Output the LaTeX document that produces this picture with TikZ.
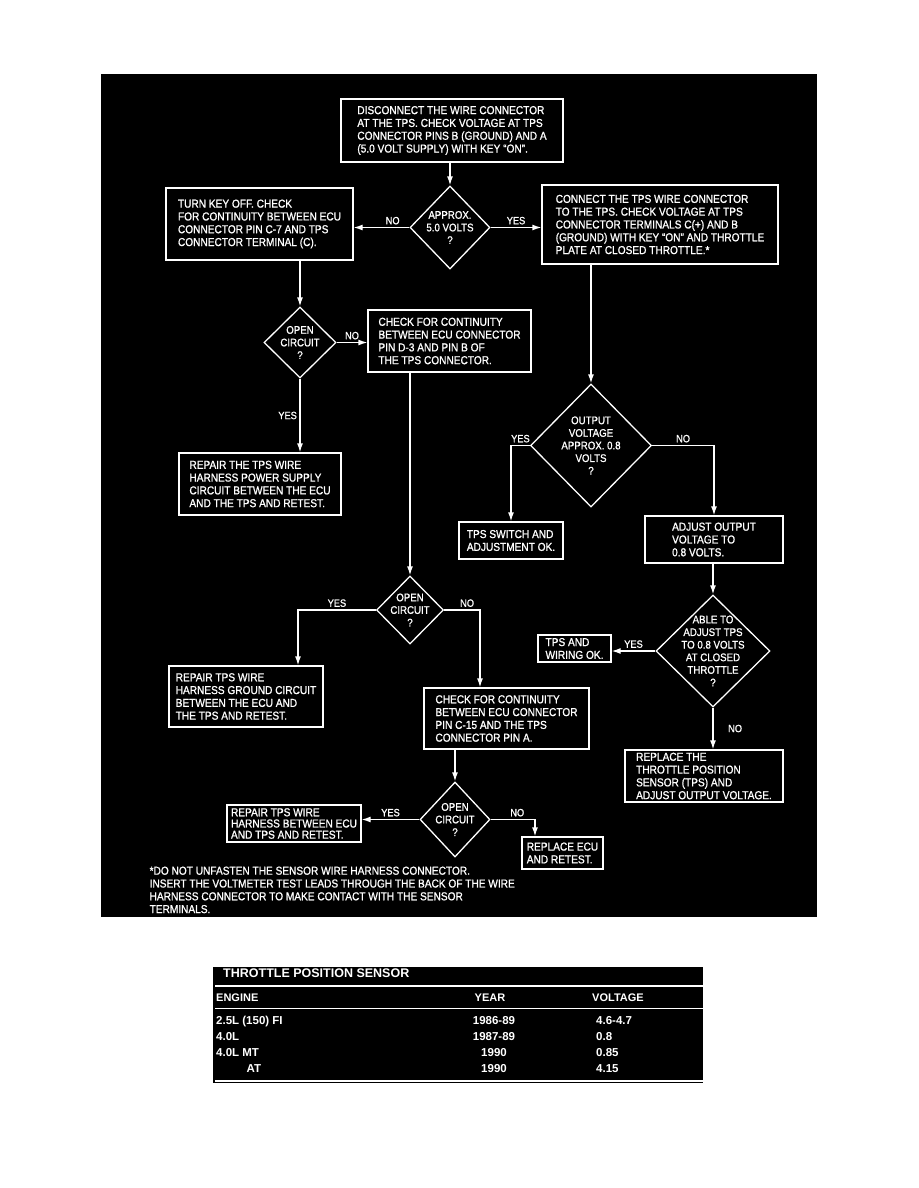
\documentclass[tikz,border=0pt]{standalone}
\usepackage{fontspec}
\newfontfamily\flowfont{Liberation Sans}[FakeStretch=0.88,FakeBold=1]
\newfontfamily\tabfont{Liberation Sans}
\usetikzlibrary{arrows.meta,shapes.geometric}
\tikzset{
  blk/.style  = {draw=white, line width=1.3pt, text=white, align=left, inner sep=0pt,
                 font=\flowfont\fontsize{11.5}{12.8}\selectfont},
  dia/.style  = {diamond, draw=white, line width=1.3pt, inner sep=0pt},
  dtxt/.style = {text=white, align=center, inner sep=0pt,
                 font=\flowfont\fontsize{11}{12.6}\selectfont},
  ar/.style   = {-{Latex[length=9pt,width=6pt]}, draw=white, line width=1.3pt},
  lbl/.style  = {text=white, inner sep=2.5pt, font=\flowfont\fontsize{10.5}{12}\selectfont},
  thd/.style  = {text=white, inner sep=0pt, font=\tabfont\bfseries\fontsize{11}{12}\selectfont},
  trow/.style = {text=white, inner sep=0pt, font=\tabfont\bfseries\fontsize{11.5}{13}\selectfont}
}

\begin{document}
\begin{tikzpicture}[x=1pt, y=-1pt]
\useasboundingbox (0,0) rectangle (918,1188);
% ---- panel ----
\fill[black] (101,74) rectangle (817,917);

% ---- boxes ----
\node[blk, minimum width=222pt, minimum height=63pt] (disc) at (452,130.5)
  {DISCONNECT THE WIRE CONNECTOR\\AT THE TPS. CHECK VOLTAGE AT TPS\\CONNECTOR PINS B (GROUND) AND A\\(5.0 VOLT SUPPLY) WITH KEY “ON”.};
\node[blk, minimum width=187pt, minimum height=72pt] (keyoff) at (259.5,224)
  {TURN KEY OFF. CHECK\\FOR CONTINUITY BETWEEN ECU\\CONNECTOR PIN C-7 AND TPS\\CONNECTOR TERMINAL (C).};
\node[blk, minimum width=236pt, minimum height=79pt] (connect) at (660,224.5)
  {CONNECT THE TPS WIRE CONNECTOR\\TO THE TPS. CHECK VOLTAGE AT TPS\\CONNECTOR TERMINALS C(+) AND B\\(GROUND) WITH KEY “ON” AND THROTTLE\\PLATE AT CLOSED THROTTLE.*};
\node[blk, minimum width=163pt, minimum height=62pt] (contd3) at (449.5,341)
  {CHECK FOR CONTINUITY\\BETWEEN ECU CONNECTOR\\PIN D-3 AND PIN B OF\\THE TPS CONNECTOR.};
\node[blk, minimum width=162pt, minimum height=62pt] (reppwr) at (260,484)
  {REPAIR THE TPS WIRE\\HARNESS POWER SUPPLY\\CIRCUIT BETWEEN THE ECU\\AND THE TPS AND RETEST.};
\node[blk, minimum width=104pt, minimum height=37pt] (swok) at (511,540.5)
  {TPS SWITCH AND\\ADJUSTMENT OK.};
\node[blk, minimum width=138pt, minimum height=47pt] (adjout) at (714,539.5)
  {ADJUST OUTPUT\\VOLTAGE TO\\0.8 VOLTS.};
\node[blk, minimum width=154pt, minimum height=61pt] (repgnd) at (246,696.5)
  {REPAIR TPS WIRE\\HARNESS GROUND CIRCUIT\\BETWEEN THE ECU AND\\THE TPS AND RETEST.};
\node[blk, minimum width=165pt, minimum height=61pt] (contc15) at (506.5,718.5)
  {CHECK FOR CONTINUITY\\BETWEEN ECU CONNECTOR\\PIN C-15 AND THE TPS\\CONNECTOR PIN A.};
\node[blk, minimum width=73pt, minimum height=27pt] (wirok) at (574.5,648.5)
  {TPS AND\\WIRING OK.};
\node[blk, minimum width=158pt, minimum height=52pt] (reptps) at (704,776)
  {REPLACE THE\\THROTTLE POSITION\\SENSOR (TPS) AND\\ADJUST OUTPUT VOLTAGE.};
\node[blk, minimum width=134pt, minimum height=37pt,
  font=\flowfont\fontsize{11.5}{11.2}\selectfont] (repharn) at (294,823.5)
  {REPAIR TPS WIRE\\HARNESS BETWEEN ECU\\AND TPS AND RETEST.};
\node[blk, minimum width=81pt, minimum height=32pt] (repecu) at (562.5,853)
  {REPLACE ECU\\AND RETEST.};

% ---- decisions ----
\node[dia, minimum width=80pt, minimum height=83pt,
  label={[dtxt]center:{APPROX.\\5.0 VOLTS\\?}}] (approx5) at (450,227.5) {};
\node[dia, minimum width=72pt, minimum height=71pt,
  label={[dtxt]center:{OPEN\\CIRCUIT\\?}}] (open1) at (300,342.5) {};
\node[dia, minimum width=121pt, minimum height=123pt,
  label={[dtxt]center:{OUTPUT\\VOLTAGE\\APPROX. 0.8\\VOLTS\\?}}] (outv) at (591,445.5) {};
\node[dia, minimum width=67pt, minimum height=68pt,
  label={[dtxt]center:{OPEN\\CIRCUIT\\?}}] (open2) at (410,610) {};
\node[dia, minimum width=114pt, minimum height=112pt,
  label={[dtxt]center:{ABLE TO\\ADJUST TPS\\TO 0.8 VOLTS\\AT CLOSED\\THROTTLE\\?}}] (able) at (713,651) {};
\node[dia, minimum width=70pt, minimum height=75pt,
  label={[dtxt]center:{OPEN\\CIRCUIT\\?}}] (open3) at (455,819.5) {};

% ---- connectors ----
\draw[ar] (approx5.north |- disc.south) -- (approx5.north);
\draw[ar] (approx5.west) -- node[lbl, above, pos=0.3] {NO} (keyoff.east |- approx5.west);
\draw[ar] (approx5.east) -- node[lbl, above] {YES} (connect.west |- approx5.east);
\draw[ar] (open1.north |- keyoff.south) -- (open1.north);
\draw[ar] (open1.east) -- node[lbl, above] {NO} (contd3.west |- open1.east);
\draw[ar] (open1.south) -- node[lbl, left] {YES} (open1.south |- reppwr.north);
\draw[ar] (outv.north |- connect.south) -- (outv.north);
\draw[ar] (outv.west) -| node[lbl, above, pos=0.25] {YES} (swok.north);
\draw[ar] (outv.east) -| node[lbl, above, pos=0.25] {NO} (adjout.north);
\draw[ar] (open2.north |- contd3.south) -- (open2.north);
\draw[ar] (open2.west) -| node[lbl, above, pos=0.25] {YES} ([xshift=52pt]repgnd.north);
\draw[ar] (open2.east) -| node[lbl, above, pos=0.32] {NO} ([xshift=-26.5pt]contc15.north);
\draw[ar] (able.north |- adjout.south) -- (able.north);
\draw[ar] (able.west) -- node[lbl, above] {YES} (wirok.east |- able.west);
\draw[ar] (able.south) -- node[lbl, right, xshift=12pt] {NO} (able.south |- reptps.north);
\draw[ar] (open3.north |- contc15.south) -- (open3.north);
\draw[ar] (open3.west) -- node[lbl, above] {YES} (repharn.east |- open3.west);
\draw[ar] (open3.east) -| node[lbl, above, pos=0.3] {NO} ([xshift=-27.5pt]repecu.north);

% ---- footnote ----
\node[blk, draw=none, anchor=north west] (fnote) at (149,866)
  {*DO NOT UNFASTEN THE SENSOR WIRE HARNESS CONNECTOR.\\INSERT THE VOLTMETER TEST LEADS THROUGH THE BACK OF THE WIRE\\HARNESS CONNECTOR TO MAKE CONTACT WITH THE SENSOR\\TERMINALS.};

% ---- table ----
\fill[black] (213,966.5) rectangle (703,1083);
\draw[white, line width=1.2pt] (215,986) -- (703,986);
\draw[white, line width=1.2pt] (215,1008.5) -- (703,1008.5);
\draw[white, line width=1.2pt] (215,1081) -- (703,1081);
\node[text=white, inner sep=0pt, font=\tabfont\bfseries\fontsize{12.5}{14}\selectfont,
  anchor=base west] (ttitle) at (223,977) {THROTTLE POSITION SENSOR};
\node[thd, anchor=base west] (hengine) at (216,1001) {ENGINE};
\node[thd, anchor=base] (hyear) at (490,1001) {YEAR};
\node[thd, anchor=base] (hvolt) at (618,1001) {VOLTAGE};
\foreach \eng/\yr/\vlt/\yy in {2.5L (150) FI/1986-89/4.6-4.7/1024.3,
                               4.0L/1987-89/0.8/1040,
                               4.0L MT/1990/0.85/1056}{
  \node[trow, anchor=base west] at (216,\yy) {\eng};
  \node[trow, anchor=base] at (494,\yy) {\yr};
  \node[trow, anchor=base west] at (596,\yy) {\vlt};
}
\node[trow, anchor=base west] (rat) at (246.5,1072.3) {AT};
\node[trow, anchor=base] (rat-yr) at (494,1072.3) {1990};
\node[trow, anchor=base west] (rat-v) at (596,1072.3) {4.15};
\end{tikzpicture}
\end{document}
